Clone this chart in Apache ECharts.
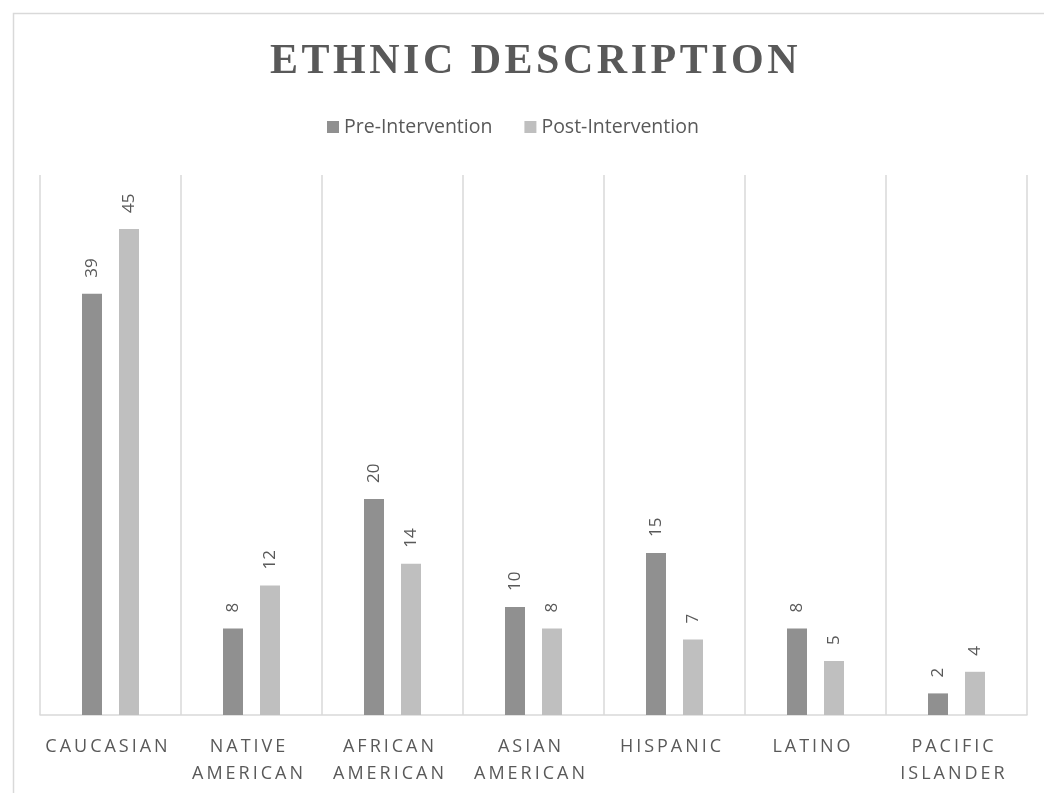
<!DOCTYPE html>
<html><head><meta charset="utf-8">
<script src="https://cdn.jsdelivr.net/npm/echarts@6/dist/echarts.min.js"></script>
<style>html,body{margin:0;padding:0;background:#fff}#c{width:1044px;height:793px}</style>
</head><body><div id="c"></div>
<script>
const categories = ['CAUCASIAN', 'NATIVE\nAMERICAN', 'AFRICAN\nAMERICAN', 'ASIAN\nAMERICAN', 'HISPANIC', 'LATINO', 'PACIFIC\nISLANDER'];
const preIntervention = [39, 8, 20, 10, 15, 8, 2];
const postIntervention = [45, 12, 14, 8, 7, 5, 4];
const seriesNames = ['Pre-Intervention', 'Post-Intervention'];
const titleText = 'ETHNIC DESCRIPTION';

function spaced(s, sep) {
  return s.split('\n').map(l => l.split('').join(sep)).join('\n');
}

const chart = echarts.init(document.getElementById('c'));
const labelCfg = {
  show: true, position: 'top', rotate: 90, align: 'left', verticalAlign: 'middle',
  distance: 16, color: '#595959', fontFamily: 'Open Sans', fontSize: 17
};
chart.setOption({
  animation: false,
  graphic: [{
    type: 'rect', left: 11, top: 11, shape: { width: 1100, height: 1000 },
    style: { fill: 'none', stroke: '#d9d9d9', lineWidth: 1.5 }, silent: true
  }],
  title: {
    text: spaced(titleText, '\u200A'), left: 265, top: 36,
    textStyle: { fontFamily: 'Liberation Serif', fontWeight: 'bold', fontSize: 42, color: '#595959' }
  },
  legend: {
    top: 112, left: 322, itemWidth: 12, itemHeight: 12, itemGap: 32,
    icon: 'rect',
    textStyle: { fontFamily: 'Open Sans', fontSize: 19.5, color: '#595959' },
    data: seriesNames
  },
  grid: { left: 40, right: 17, top: 175, bottom: 78, containLabel: false },
  xAxis: {
    type: 'category', data: categories,
    axisLine: { show: true, lineStyle: { color: '#d9d9d9', width: 1.5 } },
    axisTick: { show: false },
    splitLine: { show: true, lineStyle: { color: '#d9d9d9', width: 1.5 } },
    axisLabel: {
      interval: 0, margin: 18, lineHeight: 27, padding: [0, 8, 0, 0],
      fontFamily: 'Open Sans', fontSize: 18, color: '#595959',
      formatter: v => spaced(v, '\u2009')
    }
  },
  yAxis: { type: 'value', min: 0, max: 50, show: false, splitLine: { show: false } },
  series: [
    { name: seriesNames[0], type: 'bar', data: preIntervention, barWidth: 20, barGap: '85%',
      itemStyle: { color: '#909090' }, label: labelCfg },
    { name: seriesNames[1], type: 'bar', data: postIntervention, barWidth: 20, barGap: '85%',
      itemStyle: { color: '#bfbfbf' }, label: labelCfg }
  ]
});
</script></body></html>
